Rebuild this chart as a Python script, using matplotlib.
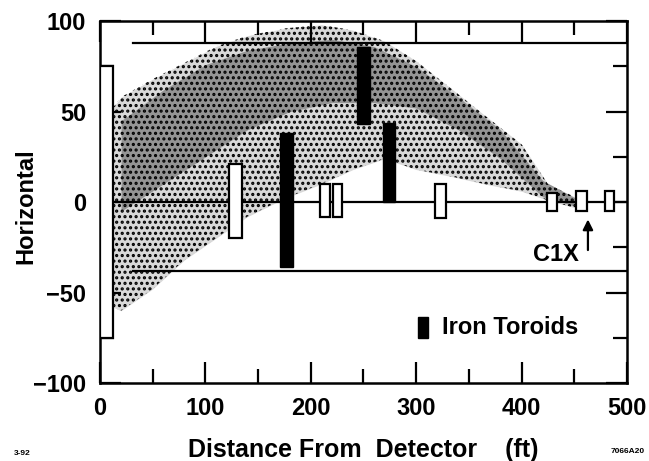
import matplotlib
matplotlib.use('Agg')
import matplotlib.pyplot as plt
from matplotlib.patches import Rectangle
from matplotlib.ticker import MultipleLocator

plt.rcParams['font.family'] = ['Liberation Sans', 'DejaVu Sans']
plt.rcParams['font.weight'] = 'bold'
plt.rcParams['axes.labelweight'] = 'bold'
plt.rcParams['hatch.linewidth'] = 1.5

# open counters / chambers along the beam line (ft, horizontal)
box_x0 = [0, 122, 209, 221, 318, 424, 452, 479]
box_x1 = [12, 135, 218, 230, 328, 434, 462, 488]
box_y0 = [-75, -20, -8, -8, -9, -5, -5, -5]
box_y1 = [75, 21, 10, 10, 10, 5, 6, 6]

# iron toroids
tor_x0 = [171, 244, 269]
tor_x1 = [183, 256, 280]
tor_y0 = [-36, 43, 0]
tor_y1 = [38, 86, 44]

# outline of the muon cloud
cloud_x = [12, 20, 50, 80, 110, 140, 175, 210, 240, 270, 300, 335, 365, 400, 425, 450, 462]
cloud_hi = [52, 58, 68, 77, 86, 92, 96, 98, 95, 89, 78, 62, 48, 32, 10, 3, 1]
cloud_lo = [-58, -60, -48, -32, -20, -8, 2, 10, 18, 24, 18, 14, 10, 6, 1, -3, -1]

# denser core of the cloud
core_x = [20, 60, 100, 140, 180, 220, 260, 300, 340, 380, 420, 455]
core_hi = [45, 62, 76, 84, 88, 90, 86, 75, 58, 40, 12, 1]
core_lo = [-5, 10, 25, 40, 50, 55, 55, 52, 40, 24, 3, -3]

fig = plt.figure(figsize=(6.49, 4.61), dpi=100)
ax = fig.add_axes([0.154, 0.169, 0.812, 0.785])

ax.fill_between(cloud_x, cloud_lo, cloud_hi, color='0.85', linewidth=0, zorder=0.8)
ax.fill_between(core_x, core_lo, core_hi, color='0.58', linewidth=0, zorder=0.9)
ax.fill_between(cloud_x, cloud_lo, cloud_hi, facecolor='none', edgecolor='black',
                linewidth=0, hatch='...', zorder=1)

# guide lines
ax.plot([31, 500], [88, 88], color='black', lw=1.6, zorder=2)
ax.plot([31, 500], [-38, -38], color='black', lw=1.6, zorder=2)
ax.plot([0, 500], [0, 0], color='black', lw=1.6, zorder=2)

for x0, x1, y0, y1 in zip(box_x0, box_x1, box_y0, box_y1):
    ax.add_patch(Rectangle((x0, y0), x1 - x0, y1 - y0, facecolor='white',
                           edgecolor='black', lw=1.6, zorder=3))
for x0, x1, y0, y1 in zip(tor_x0, tor_x1, tor_y0, tor_y1):
    ax.add_patch(Rectangle((x0, y0), x1 - x0, y1 - y0, facecolor='black',
                           edgecolor='black', lw=1, zorder=3))

# C1X marker
ax.annotate('', xy=(463, -8), xytext=(463, -28),
            arrowprops=dict(arrowstyle='-|>', color='black', lw=1.6, mutation_scale=15), zorder=4)
ax.text(454, -29, 'C1X', fontsize=17, ha='right', va='center', zorder=4)

# legend
ax.add_patch(Rectangle((302, -75), 9, 11.5, facecolor='black', edgecolor='black', zorder=4))
ax.text(325, -69.5, 'Iron Toroids', fontsize=17, ha='left', va='center', zorder=4)

ax.set_xlim(0, 500)
ax.set_ylim(-100, 100)
ax.xaxis.set_major_locator(MultipleLocator(100))
ax.xaxis.set_minor_locator(MultipleLocator(50))
ax.yaxis.set_major_locator(MultipleLocator(50))
ax.yaxis.set_minor_locator(MultipleLocator(25))
ax.tick_params(which='both', direction='in', top=True, right=True, width=1.6)
ax.tick_params(which='major', length=15, labelsize=17, pad=10)
ax.tick_params(which='minor', length=10)
for s in ax.spines.values():
    s.set_linewidth(1.8)

ax.set_xlabel('Distance From  Detector    (ft)', fontsize=18, labelpad=13)
ax.set_ylabel('Horizontal', fontsize=17)
ax.yaxis.set_label_coords(-0.118, 0.49)

fig.text(0.022, 0.012, '3-92', fontsize=6, fontweight='bold')
fig.text(0.993, 0.018, '7066A20', fontsize=6, fontweight='bold', ha='right')

fig.savefig('out.png', dpi=100)
